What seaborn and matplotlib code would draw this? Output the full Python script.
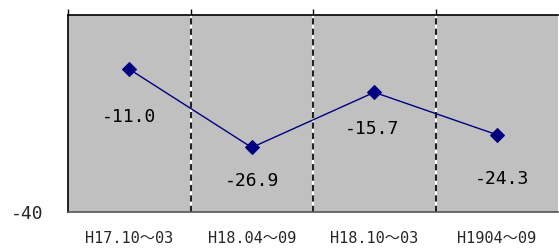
import matplotlib
matplotlib.use("Agg")
import matplotlib.pyplot as plt
import seaborn as sns
import pandas as pd

categories = ["H17.10～03", "H18.04～09", "H18.10～03", "H1904～09"]
values = [-11.0, -26.9, -15.7, -24.3]
label_offsets = [(0, -48), (0, -34), (-2, -37), (5, -44)]

sns.set_style("white")
plt.rcParams["font.family"] = ["DejaVu Sans Mono", "Noto Sans CJK JP"]

df = pd.DataFrame({"period": categories, "value": values})

fig = plt.figure(figsize=(5.59, 2.52), dpi=100)
ax = fig.add_axes([68/559, 1-212/252, (558-68)/559, (212-15)/252])
ax.set_facecolor("#c0c0c0")

pos = list(range(len(categories)))
sns.lineplot(x=pos, y=values, ax=ax, color="#000080", linewidth=1,
             marker="D", markersize=7, markeredgecolor="#000080")

for x, v, off in zip(pos, values, label_offsets):
    ax.annotate(f"{v:.1f}", (x, v), xytext=off, textcoords="offset pixels",
                ha="center", va="center", fontsize=13, color="black")

for b in [0.5, 1.5, 2.5]:
    ax.axvline(b, color="white", linewidth=1.5, zorder=1)
    ax.axvline(b, color="#222222", linewidth=1.5, linestyle=(0, (3, 2)), zorder=1.5)

ax.set_xlim(-0.5, 3.5)
ax.set_ylim(-40, 0)
ax.set_xticks(pos)
ax.set_xticklabels(categories, fontsize=11)
ax.set_xticks([-0.5, 0.5, 1.5, 2.5], minor=True)
ax.tick_params(axis="x", which="major", length=0, pad=14)
ax.tick_params(axis="x", which="minor", top=True, bottom=False, direction="out", length=4, color="black", width=1)
ax.set_yticks([-40])
ax.set_yticklabels(["-40"], fontsize=13)
ax.tick_params(axis="y", length=0, pad=18)
ax.set_xlabel("")
ax.set_ylabel("")

for s in ["top", "left"]:
    ax.spines[s].set_color("black")
    ax.spines[s].set_linewidth(1.2)
ax.spines["bottom"].set_color("#555555")
ax.spines["bottom"].set_linewidth(1.2)
ax.spines["right"].set_visible(False)

fig.savefig("out.png", dpi=100, facecolor="white")
